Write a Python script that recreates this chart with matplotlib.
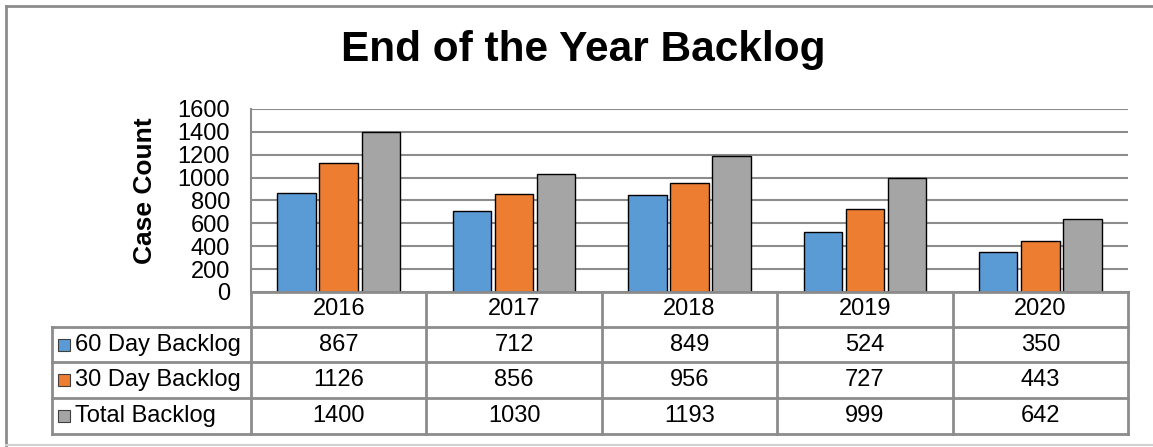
import numpy as np
import matplotlib
matplotlib.use('Agg')
import matplotlib.pyplot as plt
from matplotlib.transforms import blended_transform_factory
from matplotlib.patches import Rectangle

plt.rcParams['font.family'] = ['Liberation Sans', 'DejaVu Sans']

years = ['2016', '2017', '2018', '2019', '2020']
series = ['60 Day Backlog', '30 Day Backlog', 'Total Backlog']
backlog_60 = [867, 712, 849, 524, 350]
backlog_30 = [1126, 856, 956, 727, 443]
backlog_total = [1400, 1030, 1193, 999, 642]
colors = ['#5B9BD5', '#ED7D31', '#A5A5A5']
yticks = list(range(0, 1601, 200))

W, H = 1153, 447
fig = plt.figure(figsize=(W / 100, H / 100), dpi=100)
ax = fig.add_axes([251 / W, 1 - 292 / H, 877 / W, 183 / H])

data = [backlog_60, backlog_30, backlog_total]
x = np.arange(len(years))
bw = 0.22
gap = 0.02
for i, vals in enumerate(data):
    ax.bar(x + (i - 1) * (bw + gap), vals, bw, color=colors[i],
           edgecolor='black', linewidth=1, zorder=3)

ax.set_xlim(-0.5, len(years) - 0.5)
ax.set_ylim(0, 1600)
ax.set_yticks(yticks)
ax.set_xticks([])
ax.yaxis.grid(True, color='#8c8c8c', linewidth=1.5, zorder=0)
ax.tick_params(axis='y', length=0, pad=15, labelsize=17)
for s in ['top', 'right', 'bottom']:
    ax.spines[s].set_visible(False)
ax.spines['left'].set_color('#8c8c8c')
ax.spines['left'].set_linewidth(1.5)
ax.set_ylabel('Case Count', fontsize=19, fontweight='bold')
ax.yaxis.set_label_coords(-0.107, 0.555)

# data table below the axis
tr = blended_transform_factory(ax.transData, ax.transAxes)
rows_y = [0, -0.191, -0.383, -0.579, -0.776]
left_x = -0.5 - (251 - 52) / 175.0
right_x = len(years) - 0.5
lc = '#8c8c8c'
lw = 2

def hline(x0, x1, y):
    ax.plot([x0, x1], [y, y], color=lc, lw=lw, transform=tr, clip_on=False, zorder=4)

def vline(xv, y0, y1):
    ax.plot([xv, xv], [y0, y1], color=lc, lw=lw, transform=tr, clip_on=False, zorder=4)

hline(-0.5, right_x, rows_y[0])
for y in rows_y[1:]:
    hline(left_x, right_x, y)
for k in range(len(years) + 1):
    vline(k - 0.5, rows_y[0], rows_y[-1])
vline(left_x, rows_y[1], rows_y[-1])

for k, yr in enumerate(years):
    ax.text(k, (rows_y[0] + rows_y[1]) / 2, yr, transform=tr, ha='center',
            va='center', fontsize=17)
for r, name in enumerate(series):
    yc = (rows_y[r + 1] + rows_y[r + 2]) / 2
    sq_w = 12 / 175.0
    sq_h = 12 / 183.0
    ax.add_patch(Rectangle((left_x + 6 / 175.0, yc - sq_h / 2), sq_w, sq_h,
                           facecolor=colors[r], edgecolor='#404040', lw=0.8,
                           transform=tr, clip_on=False, zorder=5))
    ax.text(left_x + 23 / 175.0, yc, name, transform=tr, ha='left',
            va='center', fontsize=17)
    for k, v in enumerate(data[r]):
        ax.text(k, yc, str(v), transform=tr, ha='center', va='center',
                fontsize=17)

fig.text(583 / W, 1 - 50 / H, 'End of the Year Backlog', ha='center',
         va='center', fontsize=30.5, fontweight='bold')

# outer chart border
fig.add_artist(plt.Line2D([6 / W, 6 / W], [1 - 6 / H, 1 - 445 / H],
                          color='#8c8c8c', lw=2, transform=fig.transFigure))
fig.add_artist(plt.Line2D([6 / W, 1], [1 - 6 / H, 1 - 6 / H],
                          color='#8c8c8c', lw=2, transform=fig.transFigure))
fig.add_artist(plt.Line2D([6 / W, 1], [1 - 445 / H, 1 - 445 / H],
                          color='#d0d0d0', lw=1.5, transform=fig.transFigure))

fig.savefig('out.png', dpi=100)
